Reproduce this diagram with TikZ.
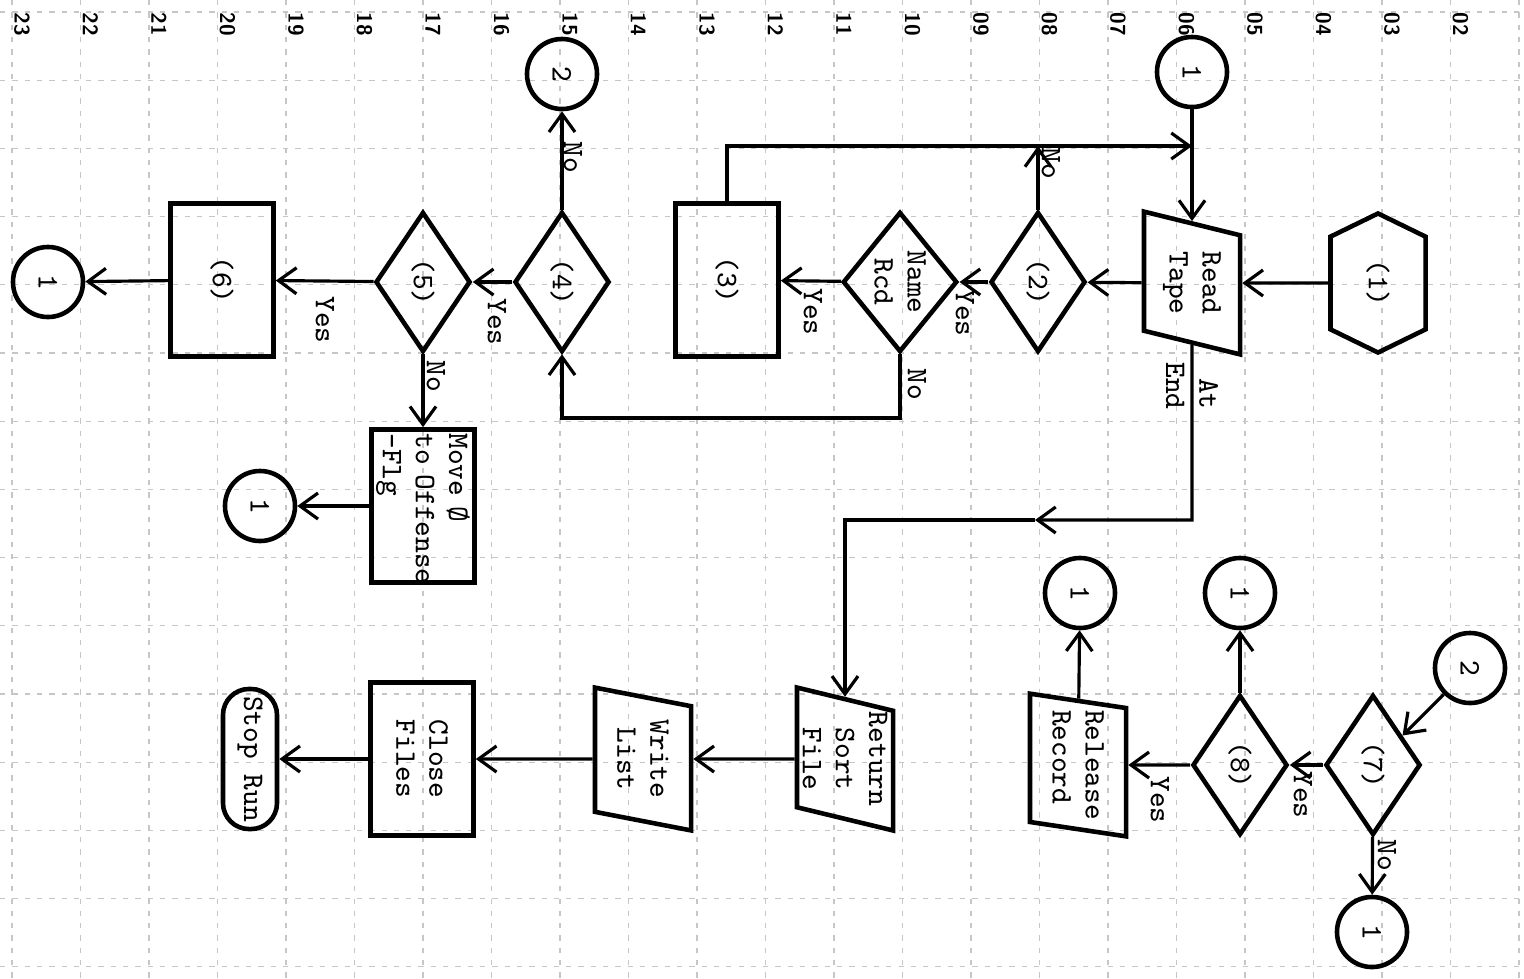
\documentclass[tikz,border=0pt]{standalone}
\usetikzlibrary{shapes.geometric, shapes.symbols, arrows.meta}

\newcommand{\tfont}{\ttfamily\fontsize{8.5}{9.4}\selectfont}

\begin{document}
\begin{tikzpicture}[
  x=0.01cm, y=-0.01cm,
  >={Straight Barb[length=1.8mm,width=2.6mm]},
  every node/.append style={rotate=-90},
  shp/.style={draw, line width=1.3pt, inner sep=0pt, font=\tfont, align=center},
  conn/.style={circle, shp, minimum size=0.7cm},
  proc/.style={rectangle, shp, minimum width=1.53cm, minimum height=1.03cm},
  dec/.style={diamond, shp, minimum width=1.4cm, minimum height=0.95cm},
  io/.style={trapezium, shp, trapezium left angle=75, trapezium right angle=105, trapezium stretches=true, minimum width=1.43cm, minimum height=0.96cm},
  prep/.style={signal, shp, signal to=east and west, signal pointer angle=128, minimum width=1.39cm, minimum height=0.95cm},
  term/.style={rectangle, shp, rounded corners=2.6mm, minimum width=1.4cm, minimum height=0.54cm},
  lbl/.style={font=\tfont, inner sep=0pt},
  flow/.style={line width=0.9pt},
  grid line/.style={gray!45, line width=0.3pt, dash pattern=on 1.5pt off 2pt}]
  \useasboundingbox (0,0) rectangle (1524,978);

  % graph paper
  \foreach \k in {0,...,22} \draw[grid line] ({12+68.5*\k},0) -- ({12+68.5*\k},978);
  \foreach \k in {0,...,14} \draw[grid line] (0,{12+68.2*\k}) -- (1524,{12+68.2*\k});
  \foreach \n [count=\i from 0] in {23,22,21,20,19,18,17,16,15,14,13,12,11,10,09,08,07,06,05,04,03,02}
    \node[font=\sffamily\bfseries\fontsize{6}{6}\selectfont, inner sep=0pt] (col\n) at ({22+68.5*\i},24) {\n};

  % main loop
  \node[conn] (top1) at (1192,72) {1};
  \node[prep] (init) at (1378,283) {(1)};
  \node[io] (read) at (1192,283) {Read\\Tape};
  \node[dec] (d2) at (1038,282) {(2)};
  \node[dec] (name) at (900,282) {Name\\Rcd};
  \node[proc] (b3) at (727,280) {(3)};
  \node[dec] (d4) at (562,282) {(4)};
  \node[conn] (top2) at (562,74) {2};
  \node[dec] (d5) at (423,282) {(5)};
  \node[proc] (b6) at (222,280) {(6)};
  \node[conn] (end1) at (48,282) {1};
  \node[proc, text width=1.45cm, align=left] (move) at (423,506) {Move \O\\to~Offense\\-Flg};
  \node[conn] (end2) at (260,506) {1};

  \coordinate (loop) at (1192,146);
  \coordinate (low) at (900,418);
  \coordinate (atend) at (1192,520);
  \coordinate (mid) at (1035,520);

  % end of tape and sort output
  \node[io] (ret) at (845,759) {Return\\Sort\\File};
  \node[io] (wl) at (643,759) {Write\\List};
  \node[proc] (close) at (422,759) {Close\\Files};
  \node[term] (stop) at (250,759) {Stop Run};

  % connector 2
  \node[conn] (top3) at (1470,668) {2};
  \node[dec] (d7) at (1373,765) {(7)};
  \node[dec] (d8) at (1240,765) {(8)};
  \node[io, align=left] (rel) at (1078,765) {Release\\Record};
  \node[conn] (out1) at (1240,593) {1};
  \node[conn] (out2) at (1080,593) {1};
  \node[conn] (out3) at (1372,932) {1};

  \draw[flow,->] (top1) -- (read);
  \draw[flow,->] (init) -- (read);
  \draw[flow,->] (read) -- (d2);
  \draw[flow,->] (d2) -- (name);
  \draw[flow,->] (name) -- (b3);
  \draw[flow,->] (b3) -- (b3 |- loop) -- (loop);
  \draw[flow,->] (d2) -- (d2 |- loop);
  \draw[flow,->] (name) -- (low) -| (d4);
  \draw[flow,->] (d4) -- (top2);
  \draw[flow,->] (d4) -- (d5);
  \draw[flow,->] (d5) -- (b6);
  \draw[flow,->] (b6) -- (end1);
  \draw[flow,->] (d5) -- (move);
  \draw[flow,->] (move) -- (end2);
  \draw[flow,->] (read) -- (atend) -- (mid);
  \draw[flow,->] (mid) -| (ret);
  \draw[flow,->] (ret) -- (wl);
  \draw[flow,->] (wl) -- (close);
  \draw[flow,->] (close) -- (stop);
  \draw[flow,->] (top3) -- (d7);
  \draw[flow,->] (d7) -- (d8);
  \draw[flow,->] (d7) -- (out3);
  \draw[flow,->] (d8) -- (out1);
  \draw[flow,->] (d8) -- (rel);
  \draw[flow,->] (rel) -- (out2);

  % branch labels
  \node[lbl] (no2) at (1051,163) {No};
  \node[lbl] (yes2) at (965,313) {Yes};
  \node[lbl] (yesn) at (813,312) {Yes};
  \node[lbl] (non) at (917,384) {No};
  \node[lbl] (no4) at (573,157) {No};
  \node[lbl] (yes4) at (497,322) {Yes};
  \node[lbl] (no5) at (436,376) {No};
  \node[lbl] (yes5) at (325,320) {Yes};
  \node[lbl, align=right] (atl) at (1192,386) {At\\End};
  \node[lbl] (yes7) at (1303,795) {Yes};
  \node[lbl] (yes8) at (1160,800) {Yes};
  \node[lbl] (no7) at (1387,855) {No};
\end{tikzpicture}
\end{document}
